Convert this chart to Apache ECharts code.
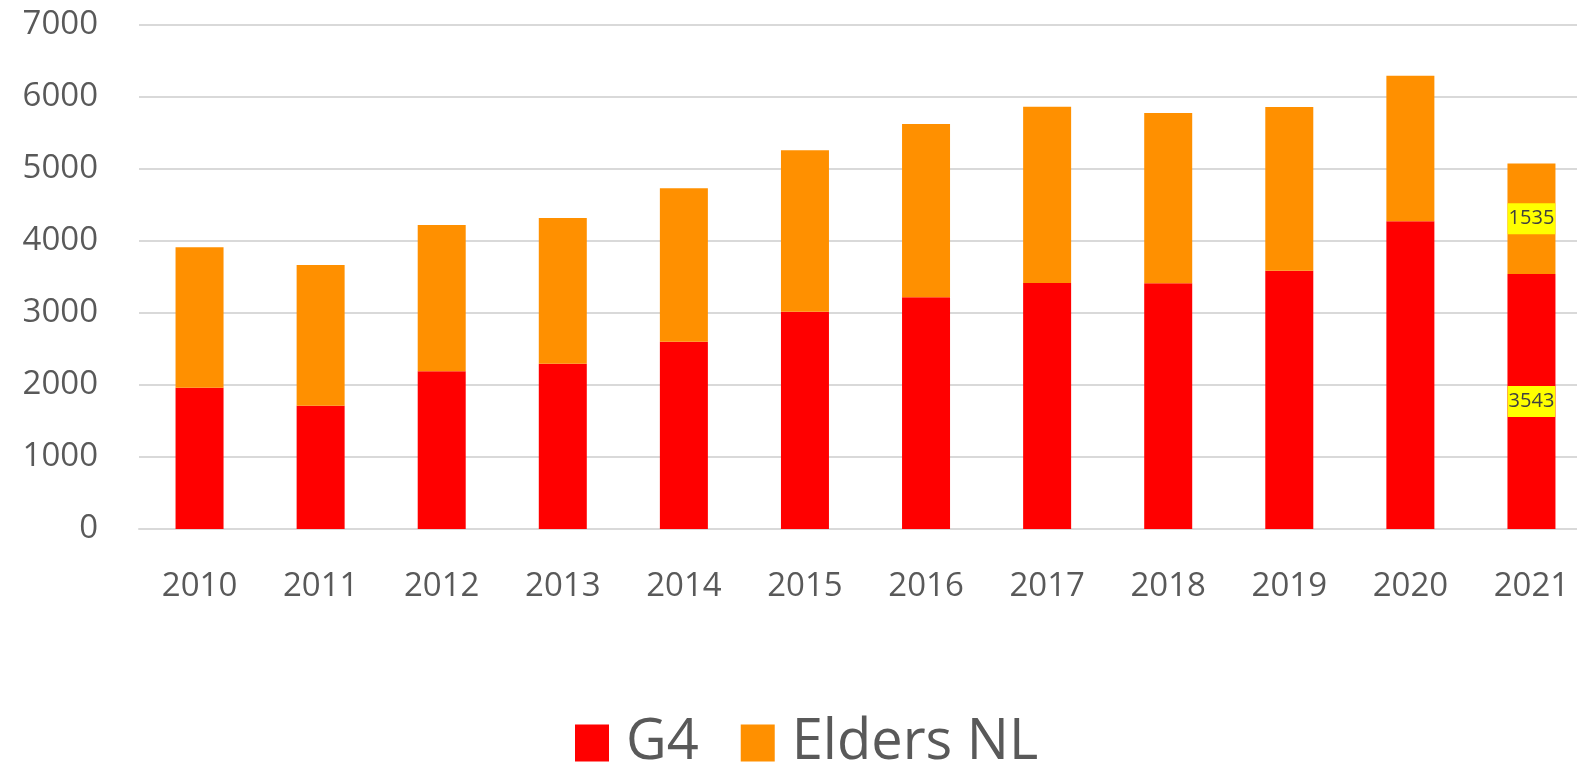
<!DOCTYPE html>
<html>
<head>
<meta charset="utf-8">
<title>G4 / Elders NL</title>
<script src="https://cdn.jsdelivr.net/npm/echarts@6/dist/echarts.min.js"></script>
<style>
  html, body {margin:0; padding:0; background:#fff;}
  #main {width:1577px; height:770px;}
</style>
</head>
<body>
<div id="main"></div>
<script>
// jaren en waarden
var years = ['2010','2011','2012','2013','2014','2015','2016','2017','2018','2019','2020','2021'];
var g4 = [1962, 1713, 2190, 2296, 2602, 3018, 3218, 3417, 3412, 3588, 4273, 3543];
var eldersNL = [1950, 1954, 2032, 2023, 2130, 2241, 2407, 2449, 2366, 2273, 2023, 1535];
var yTicks = [0, 1000, 2000, 3000, 4000, 5000, 6000, 7000];

var font = 'Open Sans';
var grey = '#595959';

// alleen het laatste jaar krijgt een label
function lastLabel(v, i) {
  if (i !== years.length - 1) return v;
  return {
    value: v,
    label: {
      show: true,
      position: 'inside',
      backgroundColor: '#ffff00',
      color: '#404040',
      fontFamily: font,
      fontSize: 20,
      padding: [6, 1, 5, 1]
    }
  };
}

var chart = echarts.init(document.getElementById('main'));
chart.setOption({
  animation: false,
  grid: {left: 139, width: 1453, top: 25, bottom: 241, outerBoundsMode: 'none', containLabel: false},
  legend: {
    top: 710,
    left: 570,
    itemWidth: 34,
    itemHeight: 37,
    itemGap: 42,
    icon: 'rect',
    textStyle: {color: grey, fontFamily: font, fontSize: 56, padding: [0, 0, 0, 12]},
    data: ['G4', 'Elders NL']
  },
  xAxis: {
    type: 'category',
    data: years,
    axisLine: {lineStyle: {color: '#d9d9d9', width: 2}},
    axisTick: {show: false},
    axisLabel: {color: grey, fontFamily: font, fontSize: 33, margin: 41}
  },
  yAxis: {
    type: 'value',
    min: yTicks[0],
    max: yTicks[yTicks.length - 1],
    interval: 1000,
    axisLine: {show: false},
    axisTick: {show: false},
    splitLine: {lineStyle: {color: '#d9d9d9', width: 2}},
    axisLabel: {
      color: grey, fontFamily: font, fontSize: 33, margin: 41,
      formatter: function (v) { return String(v); }
    }
  },
  series: [
    {
      name: 'G4',
      type: 'bar',
      stack: 'tot',
      barWidth: 48,
      itemStyle: {color: '#ff0000'},
      data: g4.map(lastLabel)
    },
    {
      name: 'Elders NL',
      type: 'bar',
      stack: 'tot',
      barWidth: 48,
      itemStyle: {color: '#ff9000'},
      data: eldersNL.map(lastLabel)
    }
  ]
});
</script>
</body>
</html>
